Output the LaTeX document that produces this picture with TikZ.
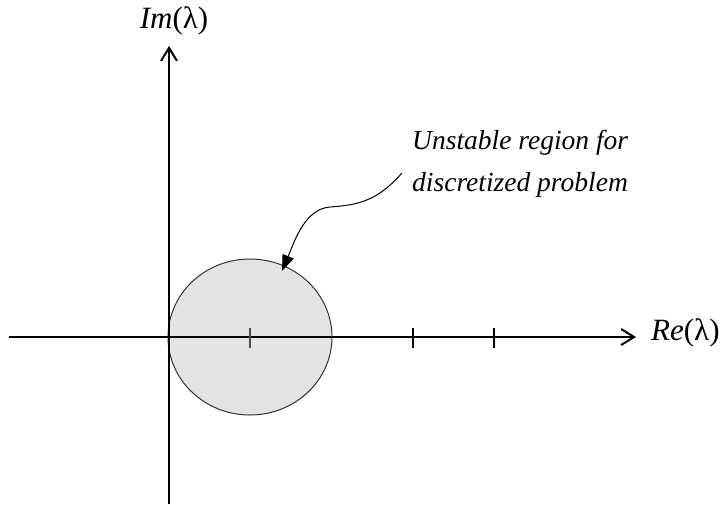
\documentclass[tikz,border=0pt]{standalone}
\usepackage{fontspec}
\setmainfont{Liberation Serif}
\usetikzlibrary{arrows.meta}
\begin{document}
\begin{tikzpicture}[x=1pt,y=-1pt,
  axis/.style={line width=2.2pt,-{Straight Barb[length=13pt,width=16pt,line width=2pt]}},
  tickmark/.style={line width=1.2pt},
  lbl/.style={inner sep=0pt,font=\fontsize{27.5}{32}\selectfont},
  axlbl/.style={inner sep=0pt,font=\fontsize{31}{36}\selectfont},
  region/.style={fill=black!11,draw=black!80,line width=1pt},
  pointer/.style={line width=1pt,-{Triangle[length=16pt,width=12pt]}}]
\useasboundingbox (0,0) rectangle (725,504);
% unstable region
\draw[region] (250,337) ellipse [x radius=82, y radius=78];
% axes
\coordinate (xs) at (9,337);
\coordinate (xe) at (636,337);
\coordinate (ys) at (169,504);
\coordinate (ye) at (169,46);
\draw[axis] (xs) -- (xe);
\draw[axis] (ys) -- (ye);
% ticks
\draw[tickmark,black!70] (250,328) -- (250,348);
\draw[tickmark] (413,328) -- (413,348);
\draw[tickmark] (494,328) -- (494,348);
% labels
\node[axlbl] (im) at (174,21) {\textit{Im}(λ)};
\node[axlbl,anchor=west] (re) at (651,333) {\textit{Re}(λ)};
\node[lbl,anchor=west] (t1) at (412,143) {\textit{Unstable region for}};
\node[lbl,anchor=west] (t2) at (412,185) {\textit{discretized problem}};
% pointer
\coordinate (ps) at (402,173);
\coordinate (pm) at (330,207);
\coordinate (pe) at (282,271);
\draw[pointer] (ps) .. controls (378,200) and (360,205) .. (pm) .. controls (305,209) and (295,240) .. (pe);
\end{tikzpicture}
\end{document}
